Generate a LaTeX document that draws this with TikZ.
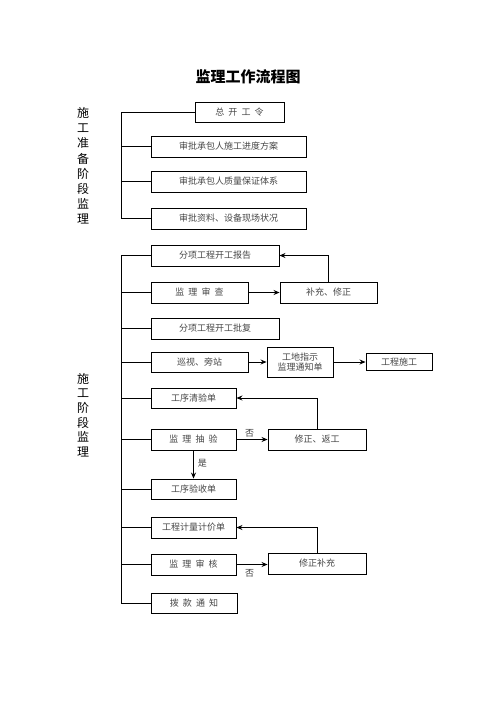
\documentclass[tikz,border=0pt]{standalone}
\usepackage{fontspec}
\setmainfont{Noto Sans CJK SC}
\usetikzlibrary{arrows.meta}
\newcommand{\gp}{\hspace{0.45em}}
\begin{document}
\begin{tikzpicture}[x=1pt,y=-1pt,
  box/.style={draw, line width=0.9pt, inner sep=0pt, font=\fontsize{9}{11}\selectfont, text=black!72},
  arr/.style={-{Stealth[length=6pt,width=5pt]}, line width=0.9pt},
  lnk/.style={line width=0.9pt},
  lbl/.style={font=\fontsize{9}{11}\selectfont, text=black!75, inner sep=0pt},
  side/.style={align=center, inner sep=0pt}]
\useasboundingbox (0,0) rectangle (496,702);
\fill[white] (0,0) rectangle (496,702);

\node[font=\fontsize{15}{18}\selectfont\bfseries] (title) at (248,77) {监理工作流程图};

\node[side, font=\fontsize{12}{15.2}\selectfont] (s1) at (83,166) {施\\工\\准\\备\\阶\\段\\监\\理};
\node[side, font=\fontsize{12}{14.7}\selectfont] (s2) at (83,415) {施\\工\\阶\\段\\监\\理};

% upper group
\node[box, minimum width=89pt, minimum height=20pt] (kgl) at (239.5,112) {总\gp 开\gp 工\gp 令};
\node[box, minimum width=155pt, minimum height=21pt] (b1) at (228.5,146.5) {审批承包人施工进度方案};
\node[box, minimum width=155pt, minimum height=21pt] (b2) at (228.5,181.5) {审批承包人质量保证体系};
\node[box, minimum width=155pt, minimum height=21pt] (b3) at (228.5,218.5) {审批资料、设备现场状况};

\coordinate (sp) at (121,0);
\draw[lnk] (kgl.west) -- (kgl.west -| sp) -- (b3.west -| sp) -- (b3.west);
\draw[lnk] (b1.west -| sp) -- (b1.west);
\draw[lnk] (b2.west -| sp) -- (b2.west);

% lower group
\node[box, minimum width=128pt, minimum height=21pt] (c1) at (215,255.5) {分项工程开工报告};
\node[box, minimum width=97pt, minimum height=21pt] (c2) at (199.5,292.5) {监\gp 理\gp 审\gp 查};
\node[box, minimum width=97pt, minimum height=21pt] (c2r) at (328.5,292.5) {补充、修正};
\node[box, minimum width=128pt, minimum height=21pt] (c3) at (215,328.5) {分项工程开工批复};
\node[box, minimum width=97pt, minimum height=20pt] (c4) at (199.5,362) {巡视、旁站};
\node[box, minimum width=66pt, minimum height=30pt, align=center, font=\fontsize{9}{10.5}\selectfont] (c4m) at (300,362) {工地指示\\监理通知单};
\node[box, minimum width=66pt, minimum height=17pt] (c4r) at (399,362) {工程施工};
\node[box, minimum width=85pt, minimum height=20pt] (c5) at (193.5,398) {工序清验单};
\node[box, minimum width=85pt, minimum height=21pt] (c6) at (193.5,439.5) {监\gp 理\gp 抽\gp 验};
\node[box, minimum width=98pt, minimum height=21pt] (c6r) at (317,439.5) {修正、返工};
\node[box, minimum width=85pt, minimum height=20pt] (c7) at (193.5,489) {工序验收单};
\node[box, minimum width=85pt, minimum height=21pt] (c8) at (193.5,527.5) {工程计量计价单};
\node[box, minimum width=85pt, minimum height=21pt] (c9) at (193.5,564.5) {监\gp 理\gp 审\gp 核};
\node[box, minimum width=98pt, minimum height=21pt] (c9r) at (317,563.5) {修正补充};
\node[box, minimum width=86pt, minimum height=20pt] (c10) at (194,603) {拨\gp 款\gp 通\gp 知};

\draw[lnk] (c1.west) -- (c1.west -| sp) -- (c10.west -| sp) -- (c10.west);
\foreach \n in {c2,c3,c4,c5,c6,c7,c8,c9}
  \draw[lnk] (\n.west -| sp) -- (\n.west);

\draw[arr] (c2.east) -- (c2r.west);
\draw[arr] (c2r.north) |- (c1.east);
\draw[arr] (c4.east) -- (c4m.west);
\draw[arr] (c4m.east) -- (c4r.west);
\draw[arr] (c6.east) -- (c6r.west) node[lbl, pos=0.42, above=2pt] (no1) {否};
\draw[arr] (c6r.north) |- (c5.east);
\draw[arr] (c6.south) -- (c7.north) node[lbl, pos=0.45, right=4pt] (yes1) {是};
\draw[arr] (c9.east) -- (c9r.west |- c9.east) node[lbl, pos=0.42, below=4pt] (no2) {否};
\draw[arr] (c9r.north) |- (c8.east);
\end{tikzpicture}
\end{document}
